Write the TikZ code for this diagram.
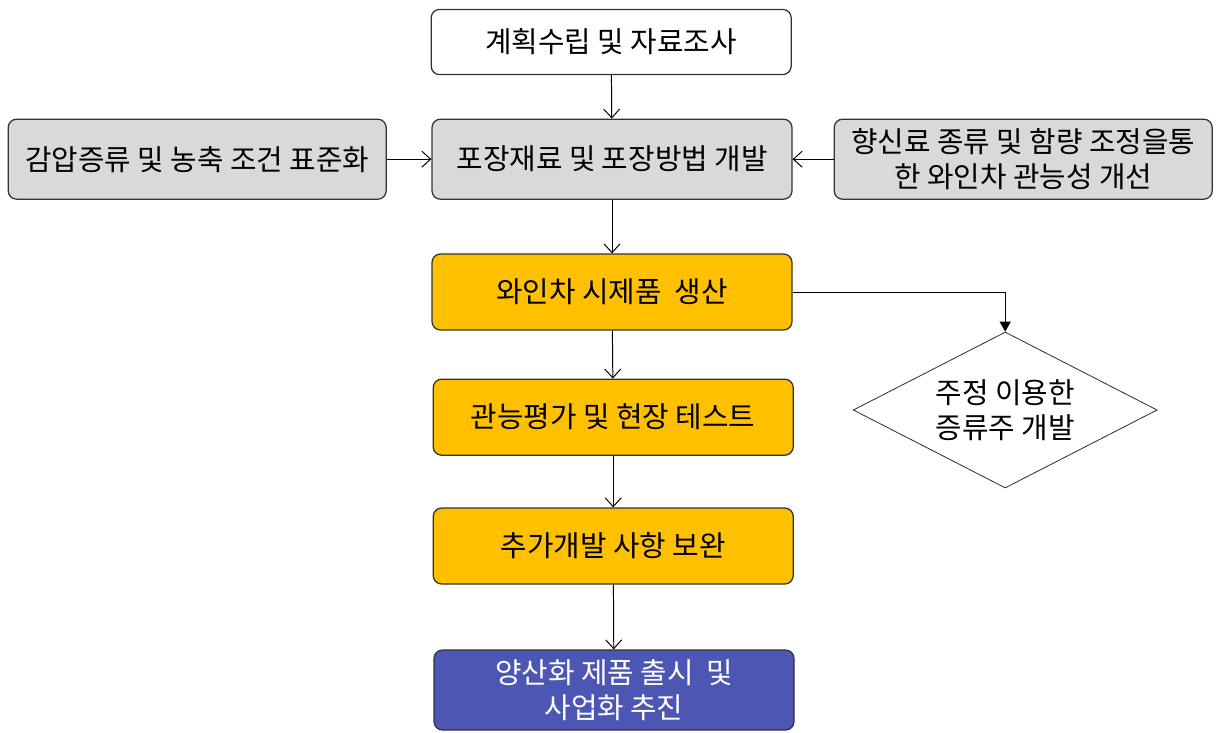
\documentclass[tikz,border=0pt]{standalone}
\usepackage{fontspec}
\setmainfont{Noto Sans CJK KR}
\usetikzlibrary{shapes.geometric, positioning, arrows.meta}

\definecolor{boxgray}{HTML}{D9D9D9}
\definecolor{boxgold}{HTML}{FFC000}
\definecolor{boxblue}{HTML}{4B57B3}

\tikzset{
    box/.style={draw=black!80, line width=0.9pt, rounded corners=6pt, minimum width=9cm, minimum height=2cm, align=center, font=\fontsize{20.5}{25}\selectfont},
    flow/.style={-{Straight Barb[length=2.2mm, width=4mm]}, line width=0.7pt},
    dec/.style={diamond, draw=black!80, line width=0.6pt, aspect=1.96, minimum width=7.6cm, minimum height=3.9cm, inner sep=0pt, align=center, font=\fontsize{20.5}{25}\selectfont}
}

\begin{document}
\begin{tikzpicture}
        \useasboundingbox (0, 0) rectangle (30.4, -18.3);

        \node[box, minimum height=1.63cm] (plan) at (15.28, -1.05) {계획수립 및 자료조사};
        \node[box, fill=boxgray] (pack) at (15.3, -3.98) {포장재료 및 포장방법 개발};
        \node[box, fill=boxgray, minimum width=9.45cm] (evap) at (4.93, -3.98) {감압증류 및 농축 조건 표준화};
        \node[box, fill=boxgray, minimum width=9.45cm] (flav) at (25.58, -3.98) {향신료 종류 및 함량 조정을통\\한 와인차 관능성 개선};
        \node[box, fill=boxgold, minimum height=1.9cm] (proto) at (15.3, -7.3) {와인차 시제품 ~생산};
        \node[box, fill=boxgold, minimum height=1.9cm] (sens) at (15.33, -10.43) {관능평가 및 현장 테스트};
        \node[box, fill=boxgold, minimum height=1.9cm] (supp) at (15.33, -13.65) {추가개발 사항 보완};
        \node[box, fill=boxblue, text=white] (mass) at (15.35, -17.25) {양산화 제품 출시 ~및\\사업화 추진};
        \node[dec] (spirit) at (25.13, -10.25) {주정 이용한\\증류주 개발};

        \draw[flow] (plan) -- (pack);
        \draw[flow] (evap) -- (pack);
        \draw[flow] (flav) -- (pack);
        \draw[flow] (pack) -- (proto);
        \draw[flow] (proto) -- (sens);
        \draw[flow] (sens) -- (supp);
        \draw[flow] (supp) -- (mass);

        \draw[-{Triangle[length=2.5mm, width=2.8mm]}, line width=0.7pt] (proto.east) -| (spirit.north);
    \end{tikzpicture}
\end{document}
